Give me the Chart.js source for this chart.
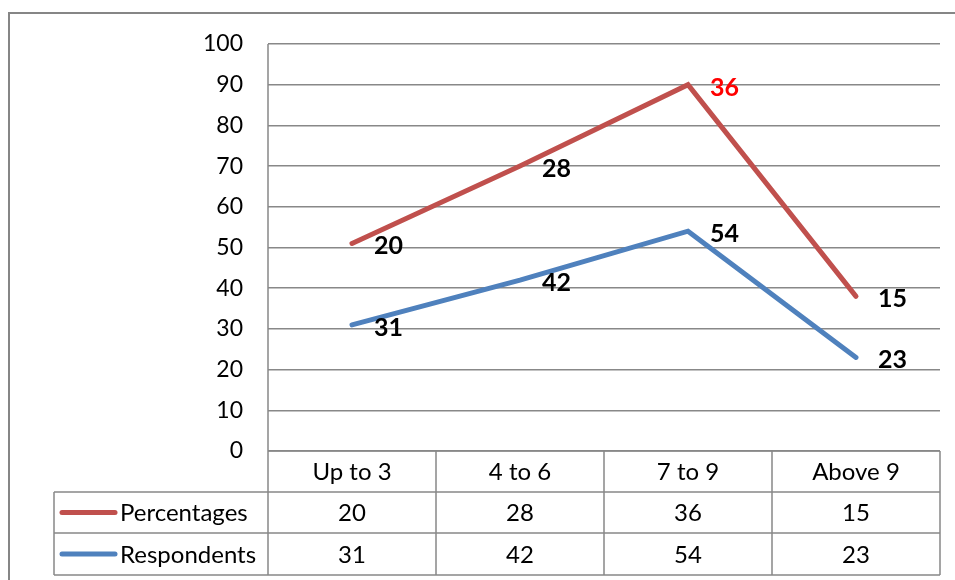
<!DOCTYPE html>
<html>
<head>
<meta charset="utf-8">
<script src="https://cdn.jsdelivr.net/npm/chart.js@4"></script>
<style>
  html, body { margin: 0; padding: 0; background: #fff; }
  #wrap { width: 955px; height: 580px; position: relative; }
</style>
</head>
<body>
<div id="wrap"><canvas id="chart" width="955" height="580"></canvas></div>
<script>
// chart data
const categories = ['Up to 3', '4 to 6', '7 to 9', 'Above 9'];
const percentages = [20, 28, 36, 15];
const respondents = [31, 42, 54, 23];
const yTicks = [0, 10, 20, 30, 40, 50, 60, 70, 80, 90, 100];

const RED = '#C0504D';
const BLUE = '#4F81BD';
const GRID = '#888888';
const FONT = 'Lato, "Open Sans", sans-serif';

// table rows under the plot (legend key + values)
const tableRows = [
    { name: 'Percentages', color: RED, values: percentages },
    { name: 'Respondents', color: BLUE, values: respondents }
];

// data labels: raw values to the right of each point, "36" is red in the original
const labelPlugin = {
    id: 'valueLabels',
    afterDatasetsDraw(chart) {
        const ctx = chart.ctx;
        ctx.save();
        ctx.font = 'bold 25px ' + FONT;
        ctx.textBaseline = 'middle';
        ctx.textAlign = 'left';
        chart.data.datasets.forEach((ds, i) => {
            const meta = chart.getDatasetMeta(i);
            meta.data.forEach((pt, j) => {
                const v = ds.raw[j];
                ctx.fillStyle = (ds.label === 'Percentages' && v === 36) ? '#FF0000' : '#000';
                ctx.fillText(String(v), pt.x + 22, pt.y + 3);
            });
        });
        ctx.restore();
    }
};

// data table + frame lines
const tablePlugin = {
    id: 'dataTable',
    afterDraw(chart) {
        const ctx = chart.ctx;
        const area = chart.chartArea;
        const x = chart.scales.x;
        const rowH = 41;
        const tableLeft = 54;
        const top = area.bottom;
        const rows = [top, top + rowH, top + rowH * 2, top + rowH * 3 + 1];
        const colW = (area.right - area.left) / categories.length;

        ctx.save();
        // outer chart frame (only left/top are visible)
        ctx.strokeStyle = '#868686';
        ctx.lineWidth = 2;
        ctx.beginPath();
        ctx.moveTo(9, 580);
        ctx.lineTo(9, 13);
        ctx.lineTo(955, 13);
        ctx.stroke();

        ctx.strokeStyle = GRID;
        ctx.lineWidth = 1.5;
        ctx.beginPath();
        // horizontal table lines
        ctx.moveTo(area.left, rows[0]); ctx.lineTo(area.right, rows[0]);
        for (let r = 1; r < rows.length; r++) {
            ctx.moveTo(tableLeft, rows[r]); ctx.lineTo(area.right, rows[r]);
        }
        // vertical axis line through table
        ctx.moveTo(area.left, area.top); ctx.lineTo(area.left, rows[3]);
        ctx.moveTo(tableLeft, rows[1]); ctx.lineTo(tableLeft, rows[3]);
        for (let c = 1; c <= categories.length; c++) {
            const cx = area.left + colW * c;
            ctx.moveTo(cx, rows[0]); ctx.lineTo(cx, rows[3]);
        }
        ctx.stroke();

        // texts
        ctx.fillStyle = '#000';
        ctx.font = '24px ' + FONT;
        ctx.textAlign = 'center';
        ctx.textBaseline = 'middle';
        categories.forEach((c, i) => {
            ctx.fillText(c, x.getPixelForValue(i), (rows[0] + rows[1]) / 2 + 1);
        });
        tableRows.forEach((row, r) => {
            const y = (rows[r + 1] + rows[r + 2]) / 2 + 1;
            row.values.forEach((v, i) => {
                ctx.fillText(String(v), x.getPixelForValue(i), y);
            });
            // legend key
            ctx.strokeStyle = row.color;
            ctx.lineWidth = 5;
            ctx.lineCap = 'round';
            ctx.beginPath();
            ctx.moveTo(62, y - 1); ctx.lineTo(115, y - 1);
            ctx.stroke();
            ctx.textAlign = 'left';
            ctx.fillText(row.name, 120, y);
            ctx.textAlign = 'center';
        });
        ctx.restore();
    }
};

new Chart(document.getElementById('chart'), {
    type: 'line',
    data: {
        labels: categories,
        datasets: [
            // stacked: respondents at the bottom, percentages on top
            { label: 'Respondents', data: respondents, raw: respondents, borderColor: BLUE,
              backgroundColor: BLUE, borderWidth: 5, pointRadius: 0, tension: 0, fill: false,
              borderCapStyle: 'round' },
            { label: 'Percentages', data: percentages, raw: percentages, borderColor: RED,
              backgroundColor: RED, borderWidth: 5, pointRadius: 0, tension: 0, fill: false,
              borderCapStyle: 'round' }
        ]
    },
    options: {
        responsive: false,
        animation: false,
        layout: { padding: { left: 10, top: 44, right: 15, bottom: 129 } },
        plugins: {
            legend: { display: false },
            tooltip: { enabled: false }
        },
        scales: {
            x: {
                display: false,
                offset: true
            },
            y: {
                stacked: true,
                min: 0,
                max: 100,
                afterBuildTicks: s => { s.ticks = yTicks.map(v => ({ value: v })); },
                afterFit: s => { s.width = 258; },
                border: { display: false },
                grid: { color: GRID, lineWidth: 1.5, drawTicks: false },
                ticks: {
                    padding: 25,
                    color: '#000',
                    font: { family: FONT, size: 23 }
                }
            }
        }
    },
    plugins: [labelPlugin, tablePlugin]
});
</script>
</body>
</html>
